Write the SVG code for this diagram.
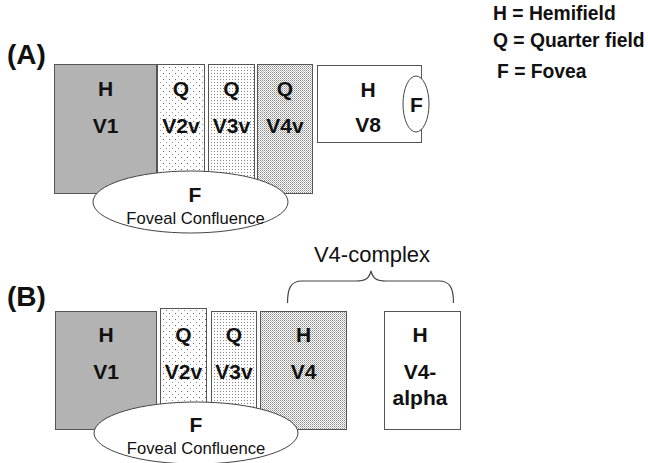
<svg xmlns="http://www.w3.org/2000/svg" width="648" height="463" viewBox="0 0 648 463">
<style>
text{font-family:"Liberation Sans",Arial,sans-serif;fill:#111}
.b{font-weight:bold;font-size:21px;text-anchor:middle}
.fl{font-size:16.6px;text-anchor:middle}
.leg{font-weight:bold;font-size:19.3px}
.pl{font-weight:bold;font-size:28px}
.box{stroke:#555;stroke-width:1}
.ell{fill:#fff;stroke:#444;stroke-width:1}
</style>
<defs>
<pattern id="p2" width="6" height="6" patternUnits="userSpaceOnUse">
<rect width="6" height="6" fill="#fff"/>
<rect x="1" y="1" width="1" height="1" fill="#666"/>
<rect x="4" y="4" width="1" height="1" fill="#999"/>
</pattern>
<pattern id="p3" width="3" height="3" patternUnits="userSpaceOnUse">
<rect width="3" height="3" fill="#fff"/>
<rect x="1" y="1" width="1" height="1" fill="#888"/>
</pattern>
<pattern id="p4" width="2" height="2" patternUnits="userSpaceOnUse">
<rect width="2" height="2" fill="#fff"/>
<rect x="0" y="0" width="1" height="1" fill="#8a8a8a"/>
<rect x="1" y="1" width="1" height="1" fill="#b8b8b8"/>
</pattern>
</defs>
<rect width="648" height="463" fill="#fff"/>

<g id="legend">
<text class="leg" x="493" y="20">H = Hemifield</text>
<text class="leg" x="493" y="47">Q = Quarter field</text>
<text class="leg" x="497" y="78">F = Fovea</text>
</g>

<g id="panel-a-label"><text class="pl" x="7" y="64">(A)</text></g>

<g id="a-v1"><rect class="box" x="54.5" y="64.5" width="102" height="129" fill="#b3b3b3"/><text class="b" x="105.5" y="96">H</text><text class="b" x="105.5" y="133">V1</text></g>
<g id="a-v2v"><rect class="box" x="157.5" y="64.5" width="47" height="129" fill="url(#p2)"/><text class="b" x="181" y="96">Q</text><text class="b" x="181" y="133">V2v</text></g>
<g id="a-v3v"><rect class="box" x="208.5" y="64.5" width="46" height="129" fill="url(#p3)"/><text class="b" x="231.5" y="96">Q</text><text class="b" x="231.5" y="133">V3v</text></g>
<g id="a-v4v"><rect class="box" x="257.5" y="64.5" width="55" height="129" fill="url(#p4)"/><text class="b" x="285" y="96">Q</text><text class="b" x="285" y="133">V4v</text></g>
<g id="a-v8"><rect class="box" x="317.5" y="65.5" width="104" height="77" fill="#fff"/><text class="b" x="368" y="97">H</text><text class="b" x="368" y="132">V8</text>
<ellipse class="ell" cx="416" cy="104" rx="13" ry="28"/><text class="b" x="416.5" y="112">F</text></g>
<g id="a-foveal"><ellipse class="ell" cx="190.5" cy="202" rx="97.5" ry="31"/><text class="b" x="195" y="202">F</text><text class="fl" x="195.5" y="224">Foveal Confluence</text></g>

<g id="panel-b-label"><text class="pl" x="7" y="306">(B)</text></g>

<g id="v4-complex-brace">
<path d="M287.5,303 C287.5,288 291,281 302,281 L356,281 C365,281 369,279 371,271 C373,279 377,281 386,281 L439,281 C450,281 453.5,288 453.5,303" fill="none" stroke="#444" stroke-width="1.2"/>
<text x="372" y="262" font-size="22" text-anchor="middle">V4-complex</text>
</g>

<g id="b-v1"><rect class="box" x="55.5" y="311.5" width="101" height="118" fill="#b3b3b3"/><text class="b" x="106" y="342">H</text><text class="b" x="106" y="379">V1</text></g>
<g id="b-v2v"><rect class="box" x="160.5" y="308.5" width="46" height="121" fill="url(#p2)"/><text class="b" x="183.5" y="342">Q</text><text class="b" x="183.5" y="379">V2v</text></g>
<g id="b-v3v"><rect class="box" x="211.5" y="311.5" width="45" height="118" fill="url(#p3)"/><text class="b" x="234" y="342">Q</text><text class="b" x="234" y="379">V3v</text></g>
<g id="b-v4"><rect class="box" x="260.5" y="311.5" width="86" height="118" fill="url(#p4)"/><text class="b" x="303.5" y="342">H</text><text class="b" x="303.5" y="379">V4</text></g>
<g id="b-v4alpha"><rect class="box" x="384.5" y="311.5" width="76" height="118" fill="#fff"/><text class="b" x="420" y="342">H</text><text class="b" x="420" y="379">V4-</text><text class="b" x="420" y="405">alpha</text></g>
<g id="b-foveal"><ellipse class="ell" cx="196" cy="433" rx="102" ry="31"/><text class="b" x="196" y="432">F</text><text class="fl" x="196" y="454">Foveal Confluence</text></g>
</svg>
